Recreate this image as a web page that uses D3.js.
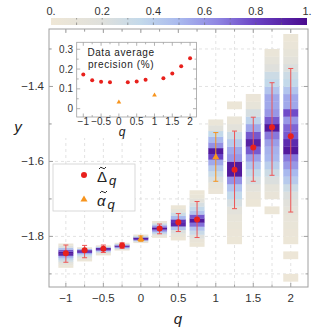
<!DOCTYPE html>
<html>
<head>
<meta charset="utf-8">
<script src="https://cdn.jsdelivr.net/npm/d3@7"></script>
<style>
	body { margin: 0; background: #fff; }
	svg { display: block; }
	text { font-family: "Liberation Sans", Arial, sans-serif; }
</style>
</head>
<body>
<svg id="chart" width="315" height="333"></svg>
<script>
	// --- data ---
	var qValues  = [-1, -0.75, -0.5, -0.25, 0, 0.25, 0.5, 0.75, 1, 1.25, 1.5, 1.75, 2];
	var estKind  = ["delta","delta","delta","delta","alpha","delta","delta","delta","alpha","delta","delta","delta","delta"];
	var estimate = [-1.845, -1.837, -1.833, -1.824, -1.808, -1.779, -1.762, -1.755, -1.590, -1.622, -1.563, -1.509, -1.533];
	var errLow   = [-1.869, -1.857, -1.843, -1.832, -1.813, -1.793, -1.787, -1.803, -1.653, -1.726, -1.653, -1.637, -1.735];
	var errHigh  = [-1.823, -1.824, -1.823, -1.817, -1.799, -1.767, -1.739, -1.707, -1.523, -1.519, -1.482, -1.390, -1.352];

	// histogram of each posterior: range and bin densities, bottom to top
	var binLow   = [-1.883, -1.866, -1.850, -1.837, -1.817, -1.803, -1.810, -1.827, -1.686, -1.82, -1.72, -1.74, -1.92];
	var binHigh  = [-1.819, -1.829, -1.824, -1.817, -1.795, -1.759, -1.717, -1.677, -1.488, -1.44, -1.42, -1.30, -1.26];
	var density = [
		[0.04,0.1,0.18,0.28,0.4,0.55,0.9,0.95,0.75,0.45,0.2,0.06],
		[0.04,0.08,0.15,0.25,0.35,0.5,0.8,0.95,0.5,0.1],
		[0.04,0.1,0.25,0.45,0.8,0.95,0.45,0.08],
		[0.05,0.3,0.6,0.95,0.45,0.06],
		[0.05,0.3,0.8,0.95,0.35,0.06],
		[0.05,0.2,0.4,0.65,0.95,0.6,0.3,0.06],
		[0.04,0.1,0.22,0.45,0.9,0.85,0.5,0.3,0.12,0.04],
		[0.04,0.08,0.2,0.32,0.45,0.7,0.95,0.75,0.45,0.35,0.25,0.15,0.07,0.04],
		[0.05,0.1,0.22,0.32,0.42,0.55,0.8,0.95,0.62,0.5,0.35,0.18,0.06],
		[0.04,0.05,0.07,0.1,0.15,0.25,0.35,0.45,0.62,0.95,0.95,0.6,0.55,0.42,0.3,0.15,0.06,0,0.04],
		[0.04,0.08,0.15,0.25,0.35,0.45,0.58,0.75,0.92,0.75,0.55,0.38,0.25,0.1,0.05],
		[0.04,0,0.08,0.12,0.22,0.3,0.4,0.5,0.52,0.58,0.68,0.95,0.75,0.6,0.55,0.55,0.45,0.35,0.3,0.2,0.12,0.06],
		[0.03,0,0,0.03,0,0.04,0.05,0.07,0.09,0.12,0.17,0.22,0.3,0.42,0.5,0.6,0.68,0.95,0.88,0.75,0.72,0.6,0.78,0.55,0.55,0.45,0.35,0.3,0.22,0.15,0.1,0.06,0.04]
	];

	// inset: data average precision
	var precision = [0.172, 0.143, 0.136, 0.134, 0.030, 0.134, 0.137, 0.146, 0.066, 0.153, 0.178, 0.214, 0.254];

	var mainXTicks = [-1, -0.5, 0, 0.5, 1, 1.5, 2];
	var mainYTicks = [-1.4, -1.6, -1.8];
	var insetXTicks = [-1, -0.5, 0, 0.5, 1, 1.5, 2];
	var insetYTicks = [0, 0.1, 0.2, 0.3];
	var barTicks = [0, 0.2, 0.4, 0.6, 0.8, 1];

	var colorStops = [0, 0.2, 0.35, 0.5, 0.65, 0.8, 1];
	var colorRange = ["#efe7d6", "#dfe0dc", "#c3d9ea", "#a9b9ee", "#8f86e2", "#6a42c4", "#4a0b8e"];

	var RED = "#e8201c", RED_BAR = "#ee5555", ORANGE = "#f7941d";

	var svg = d3.select("#chart");
	var color = d3.scaleLinear().domain(colorStops).range(colorRange);

	var x = d3.scaleLinear().domain([-1.225, 2.23]).range([49, 308]);
	var y = d3.scaleLinear().domain([-1.935, -1.2467]).range([287, 29]);

	// grid
	var grid = svg.append("g").attr("stroke", "#dadada").attr("stroke-dasharray", "3,3").attr("stroke-width", 0.8);
	grid.selectAll("line.gx").data(qValues).enter().append("line")
		.attr("x1", d => x(d)).attr("x2", d => x(d)).attr("y1", 29).attr("y2", 287);
	grid.selectAll("line.gy").data(d3.range(-1.9, -1.25, 0.1)).enter().append("line")
		.attr("y1", d => y(d)).attr("y2", d => y(d)).attr("x1", 49).attr("x2", 308);

	// histogram columns
	var boxW = x(0.1) - x(0);
	var colLayer = svg.append("g");
	qValues.forEach(function(q, i) {
		var dens = density[i];
		var step = (binHigh[i] - binLow[i]) / dens.length;
		dens.forEach(function(d, j) {
			if (d <= 0) return;
			colLayer.append("rect")
				.attr("x", x(q) - boxW)
				.attr("width", 2 * boxW)
				.attr("y", y(binLow[i] + step * (j + 1)))
				.attr("height", y(binLow[i] + step * j) - y(binLow[i] + step * (j + 1)) + 0.3)
				.attr("fill", color(d));
		});
	});

	// error bars
	var eb = svg.append("g");
	qValues.forEach(function(q, i) {
		var c = estKind[i] == "alpha" ? ORANGE : RED_BAR;
		var g = eb.append("g").attr("stroke", c).attr("stroke-width", 1);
		g.append("line").attr("x1", x(q)).attr("x2", x(q)).attr("y1", y(errLow[i])).attr("y2", y(errHigh[i]));
		g.append("line").attr("x1", x(q) - 2.5).attr("x2", x(q) + 2.5).attr("y1", y(errLow[i])).attr("y2", y(errLow[i]));
		g.append("line").attr("x1", x(q) - 2.5).attr("x2", x(q) + 2.5).attr("y1", y(errHigh[i])).attr("y2", y(errHigh[i]));
	});

	var tri = d3.symbol().type(d3.symbolTriangle);
	function drawMark(g, kind, cx, cy, r) {
		if (kind == "alpha") {
			g.append("path").attr("d", tri.size(r * r * 2.4)()).attr("transform", "translate(" + cx + "," + (cy - 0.5) + ")").attr("fill", ORANGE);
		} else {
			g.append("circle").attr("cx", cx).attr("cy", cy).attr("r", r).attr("fill", RED);
		}
	}
	qValues.forEach(function(q, i) { drawMark(svg, estKind[i], x(q), y(estimate[i]), 3); });

	// frame + ticks
	svg.append("rect").attr("x", 49).attr("y", 29).attr("width", 259).attr("height", 258)
		.attr("fill", "none").attr("stroke", "#a0a0a0").attr("stroke-width", 1);
	var tk = svg.append("g").attr("stroke", "#a0a0a0").attr("stroke-width", 1);
	d3.range(-1.9, -1.25, 0.1).forEach(function(v) {
		var big = mainYTicks.some(t => Math.abs(t - v) < 1e-6);
		var len = big ? 4 : 2.5;
		tk.append("line").attr("x1", 49).attr("x2", 49 + len).attr("y1", y(v)).attr("y2", y(v));
		tk.append("line").attr("x1", 308).attr("x2", 308 - len).attr("y1", y(v)).attr("y2", y(v));
	});
	d3.range(-1, 2.01, 0.25).forEach(function(v) {
		var big = mainXTicks.some(t => Math.abs(t - v) < 1e-6);
		var len = big ? 4 : 2.5;
		tk.append("line").attr("x1", x(v)).attr("x2", x(v)).attr("y1", 287).attr("y2", 287 - len);
		tk.append("line").attr("x1", x(v)).attr("x2", x(v)).attr("y1", 29).attr("y2", 29 + len);
	});

	var fmt = d3.format("");
	svg.append("g").selectAll("text").data(mainYTicks).enter().append("text")
		.attr("x", 44).attr("y", d => y(d)).attr("dy", "0.35em").attr("text-anchor", "end")
		.attr("font-size", 11.5).attr("fill", "#333").text(d => fmt(d));
	svg.append("g").selectAll("text").data(mainXTicks).enter().append("text")
		.attr("x", d => x(d)).attr("y", 302).attr("text-anchor", "middle")
		.attr("font-size", 11.5).attr("fill", "#333").text(d => fmt(d));

	svg.append("text").attr("x", 18).attr("y", 132).attr("text-anchor", "middle")
		.attr("font-size", 15).attr("font-style", "italic").attr("fill", "#222").text("y");
	svg.append("text").attr("x", 178).attr("y", 324).attr("text-anchor", "middle")
		.attr("font-size", 15).attr("font-style", "italic").attr("fill", "#222").text("q");

	// legend
	var lg = svg.append("g");
	lg.append("rect").attr("x", 53).attr("y", 164).attr("width", 82).attr("height", 47)
		.attr("fill", "#fff").attr("stroke", "#d0d0d0").attr("stroke-width", 0.8);
	drawMark(lg, "delta", 84, 175, 3);
	drawMark(lg, "alpha", 84, 200, 3);
	function legendLabel(ly, sym, italic, tx) {
		var t = lg.append("text").attr("x", 97).attr("y", ly).attr("font-size", 15)
			.attr("font-family", "DejaVu Serif, serif").attr("fill", "#222");
		var s = t.append("tspan").text(sym);
		if (italic) s.attr("font-style", "italic");
		t.append("tspan").attr("dy", 3).attr("dx", 2).attr("font-size", 13).attr("font-style", "italic").text("q");
		// tilde accent drawn as a small wave
		var p = d3.path();
		p.moveTo(tx - 3.5, ly - 13);
		p.quadraticCurveTo(tx - 1.75, ly - 16, tx, ly - 14);
		p.quadraticCurveTo(tx + 1.75, ly - 12, tx + 3.5, ly - 15);
		lg.append("path").attr("d", p.toString()).attr("fill", "none").attr("stroke", "#222").attr("stroke-width", 1);
	}
	legendLabel(182, "\u0394", false, 102.5);
	legendLabel(206, "\u03b1", true, 103.5);

	// inset
	var xi = d3.scaleLinear().domain([-1.185, 2.18]).range([76.7, 196.5]);
	var yi = d3.scaleLinear().domain([-0.042, 0.335]).range([117, 42.3]);
	var ins = svg.append("g");
	ins.append("rect").attr("x", 53).attr("y", 34).attr("width", 145).attr("height", 104).attr("fill", "#fff");
	ins.append("rect").attr("x", 76.7).attr("y", 42.3).attr("width", 119.8).attr("height", 74.7)
		.attr("fill", "none").attr("stroke", "#a0a0a0").attr("stroke-width", 0.8);
	var itk = ins.append("g").attr("stroke", "#a0a0a0").attr("stroke-width", 0.8);
	d3.range(-0.0, 0.331, 0.05).forEach(function(v) {
		var big = insetYTicks.some(t => Math.abs(t - v) < 1e-6);
		var len = big ? 3.5 : 2;
		itk.append("line").attr("x1", 76.7).attr("x2", 76.7 + len).attr("y1", yi(v)).attr("y2", yi(v));
		itk.append("line").attr("x1", 196.5).attr("x2", 196.5 - len).attr("y1", yi(v)).attr("y2", yi(v));
	});
	d3.range(-1, 2.01, 0.25).forEach(function(v) {
		var big = insetXTicks.some(t => Math.abs(t - v) < 1e-6);
		var len = big ? 3.5 : 2;
		itk.append("line").attr("x1", xi(v)).attr("x2", xi(v)).attr("y1", 117).attr("y2", 117 - len);
		itk.append("line").attr("x1", xi(v)).attr("x2", xi(v)).attr("y1", 42.3).attr("y2", 42.3 + len);
	});
	ins.append("g").selectAll("text").data(insetYTicks).enter().append("text")
		.attr("x", 73).attr("y", d => yi(d)).attr("dy", "0.35em").attr("text-anchor", "end")
		.attr("font-size", 10).attr("fill", "#333").text(d => fmt(d));
	ins.append("g").selectAll("text").data(insetXTicks).enter().append("text")
		.attr("x", d => xi(d)).attr("y", 125).attr("text-anchor", "middle")
		.attr("font-size", 10).attr("fill", "#333").text(d => fmt(d));
	ins.append("text").attr("x", 122).attr("y", 136).attr("text-anchor", "middle")
		.attr("font-size", 12).attr("font-style", "italic").attr("fill", "#222").text("q");
	ins.append("text").attr("x", 121).attr("y", 56).attr("text-anchor", "middle")
		.attr("font-size", 10).attr("letter-spacing", 0.6).attr("fill", "#222").text("Data average");
	ins.append("text").attr("x", 121).attr("y", 68).attr("text-anchor", "middle")
		.attr("font-size", 10).attr("letter-spacing", 0.6).attr("fill", "#222").text("precision (%)");
	qValues.forEach(function(q, i) { drawMark(ins, estKind[i], xi(q), yi(precision[i]), 2); });

	// colour bar
	var cb = d3.scaleLinear().domain([0, 1]).range([51, 307]);
	var defs = svg.append("defs");
	var grad = defs.append("linearGradient").attr("id", "cbar");
	colorStops.forEach(function(s, i) {
		grad.append("stop").attr("offset", (s * 100) + "%").attr("stop-color", colorRange[i]);
	});
	svg.append("rect").attr("x", 51).attr("y", 18).attr("width", 256).attr("height", 7)
		.attr("fill", "url(#cbar)");
	var cbt = svg.append("g").attr("stroke", "#666").attr("stroke-width", 0.6);
	d3.range(0.1, 0.95, 0.1).forEach(function(v) {
		cbt.append("line").attr("x1", cb(v)).attr("x2", cb(v)).attr("y1", 22.5).attr("y2", 25);
		cbt.append("line").attr("x1", cb(v)).attr("x2", cb(v)).attr("y1", 18).attr("y2", 19.5);
	});
	svg.append("g").selectAll("text").data(barTicks).enter().append("text")
		.attr("x", d => cb(d)).attr("y", 15).attr("text-anchor", "middle")
		.attr("font-size", 11).attr("fill", "#333")
		.text(d => (d == 0 ? "0." : d == 1 ? "1." : d3.format(".1f")(d)));
</script>
</body>
</html>
